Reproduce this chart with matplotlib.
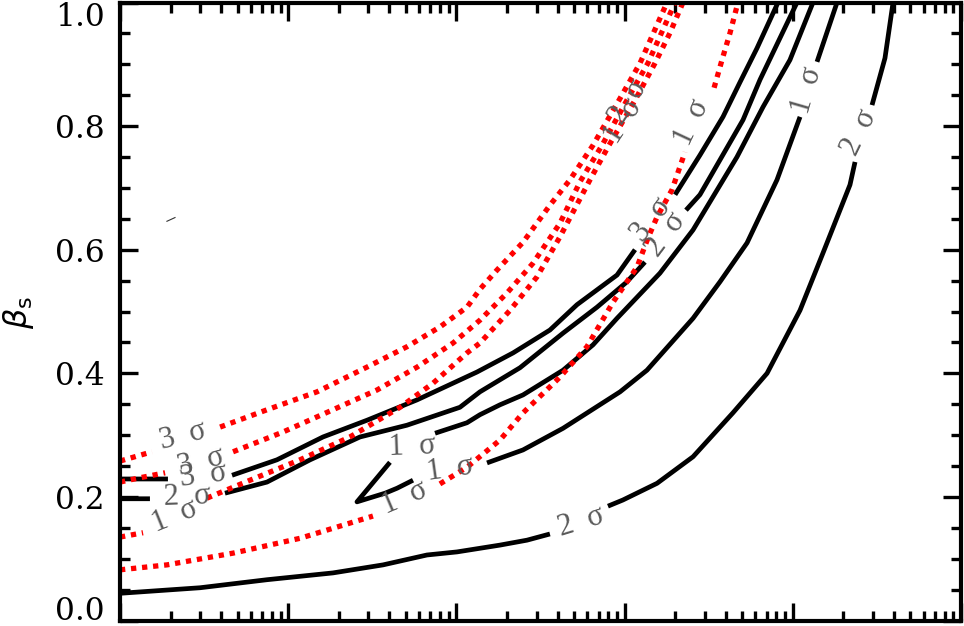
import matplotlib
matplotlib.use("Agg")
import matplotlib.pyplot as plt
import numpy as np
from matplotlib.ticker import LogLocator, MultipleLocator, NullFormatter

# contour paths, x stored as log10(x); NaN marks a gap left for a label
nan = np.nan

# red dotted contours
red_top_lx = [0.0, 0.19, nan, 0.595, 0.874, 1.171, 1.468, 1.706, 1.902, 2.063, 2.140, 2.241,
              2.396, 2.556, 2.675, 2.812, 2.967, 3.092, 3.252]
red_top_b = [0.258, 0.273, nan, 0.313, 0.341, 0.370, 0.410, 0.443, 0.475, 0.507, 0.536, 0.567,
             0.612, 0.672, 0.713, 0.769, 0.842, 0.902, 1.0]

red_mid_lx = [0.0, 0.119, 0.268, nan, 0.672, 0.969, 1.266, 1.528, 1.766, 1.980, 2.140, 2.301,
              2.455, 2.616, 2.735, 2.866, 3.014, 3.139, 3.300]
red_mid_b = [0.224, 0.231, 0.239, nan, 0.273, 0.305, 0.341, 0.373, 0.410, 0.449, 0.486, 0.530,
             0.578, 0.643, 0.710, 0.769, 0.842, 0.902, 1.0]

red_low_lx = [0.0, 0.137, nan, 0.517, 0.773, 1.070, 1.367, 1.665, 1.861, 2.063, 2.140, 2.319,
              2.479, 2.616, 2.794, 2.901, 3.062, 3.181, 3.270, 3.347]
red_low_b = [0.135, 0.142, nan, 0.198, 0.227, 0.260, 0.297, 0.345, 0.384, 0.433, 0.449, 0.502,
             0.556, 0.621, 0.713, 0.766, 0.842, 0.902, 0.951, 1.0]

red_bot_lx = [0.0, 0.279, 0.672, 1.070, 1.504, nan, 1.902, 2.063, 2.259, 2.396, 2.616, 2.776,
              2.931, 3.074, 3.139, 3.193, 3.282, 3.359, nan, 3.532, 3.579, 3.627, 3.674]
red_bot_b = [0.082, 0.090, 0.109, 0.133, 0.169, nan, 0.221, 0.248, 0.292, 0.336, 0.394, 0.443,
             0.515, 0.572, 0.619, 0.653, 0.697, 0.758, nan, 0.862, 0.907, 0.951, 1.0]

# black solid contours
blk_a_lx = [0.0, 0.285, nan, 0.666, 0.933, 1.207, 1.468, 1.766, 2.122, 2.337, 2.556, 2.717,
            2.955, 3.062, nan, 3.300, 3.448, 3.585, 3.686, 3.787, 3.912]
blk_a_b = [0.229, 0.229, nan, 0.235, 0.260, 0.297, 0.324, 0.357, 0.402, 0.433, 0.470, 0.511,
           0.559, 0.600, nan, 0.689, 0.753, 0.815, 0.871, 0.926, 1.0]

blk_b_lx = [0.0, 0.178, nan, 0.624, 0.874, 1.130, 1.427, 1.706, 2.021, 2.140, 2.378, 2.634,
            2.836, 3.014, 3.121, nan, 3.365, 3.448, 3.704, 3.805, 4.025]
blk_b_b = [0.197, 0.197, nan, 0.206, 0.224, 0.260, 0.297, 0.316, 0.345, 0.370, 0.409, 0.465,
           0.507, 0.548, 0.580, nan, 0.664, 0.689, 0.810, 0.875, 1.0]

blk_v_lx = [4.120, 3.983, 3.823, 3.668, 3.407, 3.210, 2.955, 2.812, 2.634, 2.396, 2.259, 2.140,
            2.063, 1.873, nan, 1.605, 1.409, 1.576, 1.647, 1.742, nan, 2.182, 2.396, 2.634,
            2.973, 3.133, 3.407, 3.567, 3.728, 3.906, 4.043, nan, 4.144, 4.263]
blk_v_b = [1.0, 0.907, 0.831, 0.750, 0.632, 0.562, 0.489, 0.446, 0.405, 0.365, 0.349, 0.333,
           0.320, 0.303, nan, 0.256, 0.192, 0.206, 0.214, 0.227, nan, 0.255, 0.276, 0.311,
           0.370, 0.405, 0.489, 0.548, 0.611, 0.713, 0.815, nan, 0.904, 1.0]

blk_bot_lx = [0.0, 0.476, 0.874, 1.266, 1.564, 1.825, 2.004, 2.259, 2.420, 2.556, nan, 2.901,
              2.990, 3.193, 3.407, 3.644, 3.847, 4.043, 4.180, 4.340, 4.370, nan, 4.471, 4.548,
              4.596]
blk_bot_b = [0.044, 0.053, 0.066, 0.077, 0.090, 0.106, 0.111, 0.122, 0.130, 0.140, nan, 0.185,
             0.195, 0.222, 0.265, 0.336, 0.400, 0.502, 0.595, 0.705, 0.742, nan, 0.834, 0.910,
             1.0]

stray_lx = [0.279, 0.327]
stray_b = [0.646, 0.652]

# contour labels
label_text = ["3 σ", "3 σ", "3 σ", "2 σ", "1 σ", "1 σ", "1 σ", "1 σ", "2 σ",
              "3 σ", "2 σ", "1 σ", "1 σ", "2 σ", "1 σ", "2 σ"]
label_lx = [0.375, 0.482, 0.493, 0.398, 0.327, 1.694, 1.736, 1.962, 2.741,
            3.163, 3.246, 3.401, 2.996, 3.026, 4.084, 4.394]
label_b = [0.299, 0.256, 0.235, 0.200, 0.169, 0.198, 0.281, 0.245, 0.159,
           0.648, 0.624, 0.805, 0.808, 0.839, 0.858, 0.790]
label_angle = [14, 14, 7, 2, 22, 23, 2, 8, 17, 52, 53, 65, 57, 57, 74, 64]

yticks = [0.0, 0.2, 0.4, 0.6, 0.8, 1.0]

red_curves = [(red_top_lx, red_top_b), (red_mid_lx, red_mid_b),
              (red_low_lx, red_low_b), (red_bot_lx, red_bot_b)]
black_curves = [(blk_a_lx, blk_a_b), (blk_b_lx, blk_b_b),
                (blk_v_lx, blk_v_b), (blk_bot_lx, blk_bot_b)]

label_font = ["Liberation Serif", "DejaVu Serif"]

fig = plt.figure(figsize=(9.64, 6.26), dpi=100)
ax = fig.add_axes([120 / 964, 5.5 / 626, 841 / 964, 618 / 626])

for lx, b in black_curves:
    ax.plot(10 ** np.array(lx), b, color="black", lw=3.4,
            solid_capstyle="butt", solid_joinstyle="round")
for lx, b in red_curves:
    ax.plot(10 ** np.array(lx), b, color="red", lw=3.8,
            linestyle=(0, (1, 1.1)), dash_capstyle="butt")
ax.plot(10 ** np.array(stray_lx), stray_b, color="#333333", lw=0.8)

for txt, lx, b, ang in zip(label_text, label_lx, label_b, label_angle):
    ax.text(10 ** lx, b, txt.replace(" ", "  "), color="#5a5a5a", fontsize=22,
            fontfamily=label_font, rotation=ang, rotation_mode="anchor",
            ha="center", va="center", zorder=5)

ax.set_xscale("log")
ax.set_xlim(1, 1e5)
ax.set_ylim(0, 1)
ax.xaxis.set_major_locator(LogLocator(base=10, numticks=10))
ax.xaxis.set_minor_locator(LogLocator(base=10, subs=np.arange(2, 10), numticks=10))
ax.xaxis.set_major_formatter(NullFormatter())
ax.xaxis.set_minor_formatter(NullFormatter())

ax.set_yticks(yticks)
ax.set_yticklabels([f"{v:.1f}" for v in yticks], fontfamily="DejaVu Serif", fontsize=22.5)
ax.yaxis.set_minor_locator(MultipleLocator(0.05))

ax.tick_params(which="both", direction="in", top=True, right=True, width=2.4, pad=11)
ax.tick_params(which="major", length=13)
ax.tick_params(which="minor", length=7)
for sp in ax.spines.values():
    sp.set_linewidth(3)

ticks = ax.yaxis.get_major_ticks()
ticks[0].label1.set_va("baseline")
ticks[-1].label1.set_va("top")

fig.text(0.019, 0.50, r"$\beta_{\rm s}$", rotation=90, fontsize=23,
         ha="center", va="center")

fig.savefig("out.png", dpi=100)
